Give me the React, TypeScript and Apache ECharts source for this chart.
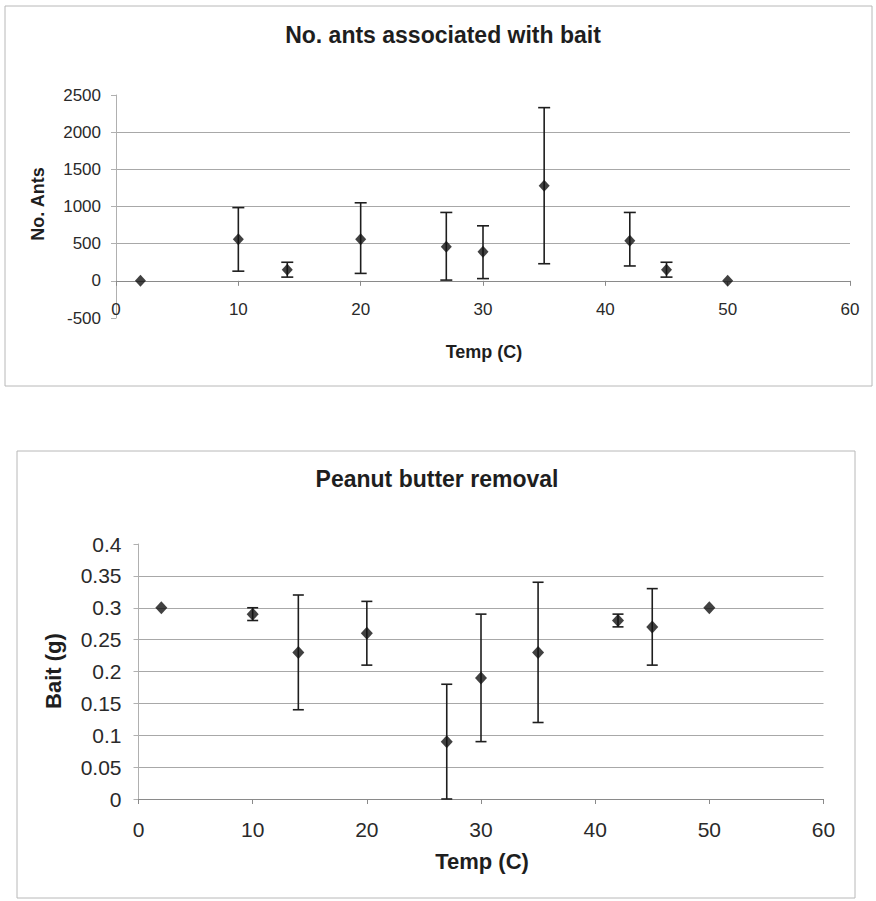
import React, { useEffect, useRef } from "react";
import * as echarts from "echarts";

const temps = [2, 10, 14, 20, 27, 30, 35, 42, 45, 50];
const antsMean = [0, 560, 150, 560, 460, 390, 1280, 540, 150, 0];
const antsLow = [0, 130, 50, 100, 10, 30, 230, 200, 50, 0];
const antsHigh = [0, 985, 250, 1050, 920, 740, 2330, 920, 250, 0];
const baitMean = [0.3, 0.29, 0.23, 0.26, 0.09, 0.19, 0.23, 0.28, 0.27, 0.3];
const baitLow = [0.3, 0.28, 0.14, 0.21, 0, 0.09, 0.12, 0.27, 0.21, 0.3];
const baitHigh = [0.3, 0.3, 0.32, 0.31, 0.18, 0.29, 0.34, 0.29, 0.33, 0.3];

const FONT = "'Liberation Sans', Arial, Helvetica, sans-serif";
const INK = "#1e1e1e";
const GRID = "#a8a8a8";

const ANTS_MIN = -500;
const ANTS_MAX = 2500;
const TOP_H = 223;

function errRender(capHalf: number) {
  return (params: any, api: any) => {
    const x = api.value(0);
    const lo = api.value(1);
    const hi = api.value(2);
    if (hi <= lo) return { type: "group", children: [] };
    const p1 = api.coord([x, lo]);
    const p2 = api.coord([x, hi]);
    const st = { stroke: INK, lineWidth: 1.6 };
    return {
      type: "group",
      children: [
        { type: "line", shape: { x1: p1[0], y1: p1[1], x2: p2[0], y2: p2[1] }, style: st },
        { type: "line", shape: { x1: p1[0] - capHalf, y1: p1[1], x2: p1[0] + capHalf, y2: p1[1] }, style: st },
        { type: "line", shape: { x1: p2[0] - capHalf, y1: p2[1], x2: p2[0] + capHalf, y2: p2[1] }, style: st },
      ],
    };
  };
}

export default function App() {
  const ref = useRef<HTMLDivElement>(null);
  useEffect(() => {
    if (!ref.current) return;
    const chart = echarts.init(ref.current, null, { renderer: "svg" });
    const axisLbl = (size: number, margin: number) => ({
      fontFamily: FONT,
      fontSize: size,
      color: "#2a2a2a",
      margin,
    });
    // shift top x axis from the bottom edge up to the y = 0 line
    const zeroOffset = -((0 - ANTS_MIN) / (ANTS_MAX - ANTS_MIN)) * TOP_H;
    chart.setOption({
      animation: false,
      backgroundColor: "#ffffff",
      grid: [
        { left: 116, top: 95, width: 734, height: TOP_H },
        { left: 138.5, top: 544, width: 685, height: 255 },
      ],
      xAxis: [
        {
          gridIndex: 0,
          type: "value",
          min: 0,
          max: 60,
          interval: 10,
          offset: zeroOffset,
          axisLine: { show: true, onZero: false, lineStyle: { color: "#8a8a8a", width: 1 } },
          axisTick: { show: true, length: 5, lineStyle: { color: "#8a8a8a" } },
          axisLabel: axisLbl(17, 20),
          splitLine: { show: false },
        },
        {
          gridIndex: 1,
          type: "value",
          min: 0,
          max: 60,
          interval: 10,
          axisLine: { show: true, onZero: false, lineStyle: { color: "#8a8a8a", width: 1 } },
          axisTick: { show: true, length: 5, lineStyle: { color: "#8a8a8a" } },
          axisLabel: axisLbl(21, 20),
          splitLine: { show: false },
        },
      ],
      yAxis: [
        {
          gridIndex: 0,
          type: "value",
          min: ANTS_MIN,
          max: ANTS_MAX,
          interval: 500,
          axisLine: { show: true, onZero: false, lineStyle: { color: "#b0b0b0", width: 1 } },
          axisTick: { show: true, length: 5, lineStyle: { color: "#b0b0b0" } },
          axisLabel: { ...axisLbl(17, 15), formatter: (v: number) => String(v) },
          splitLine: {
            show: true,
            showMinLine: false,
            showMaxLine: false,
            lineStyle: { color: GRID, width: 1 },
          },
        },
        {
          gridIndex: 1,
          type: "value",
          min: 0,
          max: 0.4,
          interval: 0.05,
          axisLine: { show: true, onZero: false, lineStyle: { color: "#b0b0b0", width: 1 } },
          axisTick: { show: true, length: 5, lineStyle: { color: "#b0b0b0" } },
          axisLabel: axisLbl(21, 17),
          splitLine: {
            show: true,
            showMinLine: false,
            showMaxLine: false,
            lineStyle: { color: GRID, width: 1 },
          },
        },
      ],
      graphic: [
        {
          type: "rect",
          shape: { x: 5, y: 6, width: 867, height: 380 },
          style: { fill: "none", stroke: "#b8b8b8", lineWidth: 1 },
          silent: true,
        },
        {
          type: "rect",
          shape: { x: 17, y: 451, width: 838, height: 447 },
          style: { fill: "none", stroke: "#b8b8b8", lineWidth: 1 },
          silent: true,
        },
        {
          type: "text",
          x: 443,
          y: 35,
          style: {
            text: "No. ants associated with bait",
            fontFamily: FONT,
            fontSize: 23,
            fontWeight: "bold",
            fill: INK,
            textAlign: "center",
            textVerticalAlign: "middle",
          },
        },
        {
          type: "text",
          x: 38,
          y: 204,
          rotation: Math.PI / 2,
          style: {
            text: "No. Ants",
            fontFamily: FONT,
            fontSize: 18,
            fontWeight: "bold",
            fill: INK,
            textAlign: "center",
            textVerticalAlign: "middle",
          },
        },
        {
          type: "text",
          x: 484,
          y: 352,
          style: {
            text: "Temp (C)",
            fontFamily: FONT,
            fontSize: 18,
            fontWeight: "bold",
            fill: INK,
            textAlign: "center",
            textVerticalAlign: "middle",
          },
        },
        {
          type: "text",
          x: 437,
          y: 479,
          style: {
            text: "Peanut butter removal",
            fontFamily: FONT,
            fontSize: 23,
            fontWeight: "bold",
            fill: INK,
            textAlign: "center",
            textVerticalAlign: "middle",
          },
        },
        {
          type: "text",
          x: 53,
          y: 671,
          rotation: Math.PI / 2,
          style: {
            text: "Bait (g)",
            fontFamily: FONT,
            fontSize: 22,
            fontWeight: "bold",
            fill: INK,
            textAlign: "center",
            textVerticalAlign: "middle",
          },
        },
        {
          type: "text",
          x: 482,
          y: 861,
          style: {
            text: "Temp (C)",
            fontFamily: FONT,
            fontSize: 22,
            fontWeight: "bold",
            fill: INK,
            textAlign: "center",
            textVerticalAlign: "middle",
          },
        },
      ],
      series: [
        {
          type: "custom",
          xAxisIndex: 0,
          yAxisIndex: 0,
          renderItem: errRender(6),
          data: temps.map((t, i) => [t, antsLow[i], antsHigh[i]]),
          z: 2,
        },
        {
          type: "scatter",
          xAxisIndex: 0,
          yAxisIndex: 0,
          symbol: "diamond",
          symbolSize: [11, 12],
          itemStyle: { color: "#111" },
          data: temps.map((t, i) => [t, antsMean[i]]),
          z: 3,
        },
        {
          type: "custom",
          xAxisIndex: 1,
          yAxisIndex: 1,
          renderItem: errRender(5.5),
          data: temps.map((t, i) => [t, baitLow[i], baitHigh[i]]),
          z: 2,
        },
        {
          type: "scatter",
          xAxisIndex: 1,
          yAxisIndex: 1,
          symbol: "diamond",
          symbolSize: [12, 13],
          itemStyle: { color: "#111" },
          data: temps.map((t, i) => [t, baitMean[i]]),
          z: 3,
        },
      ],
    });
    return () => chart.dispose();
  }, []);
  return (
    <div
      ref={ref}
      style={{ position: "absolute", left: 0, top: 0, width: 876, height: 901 }}
    />
  );
}
